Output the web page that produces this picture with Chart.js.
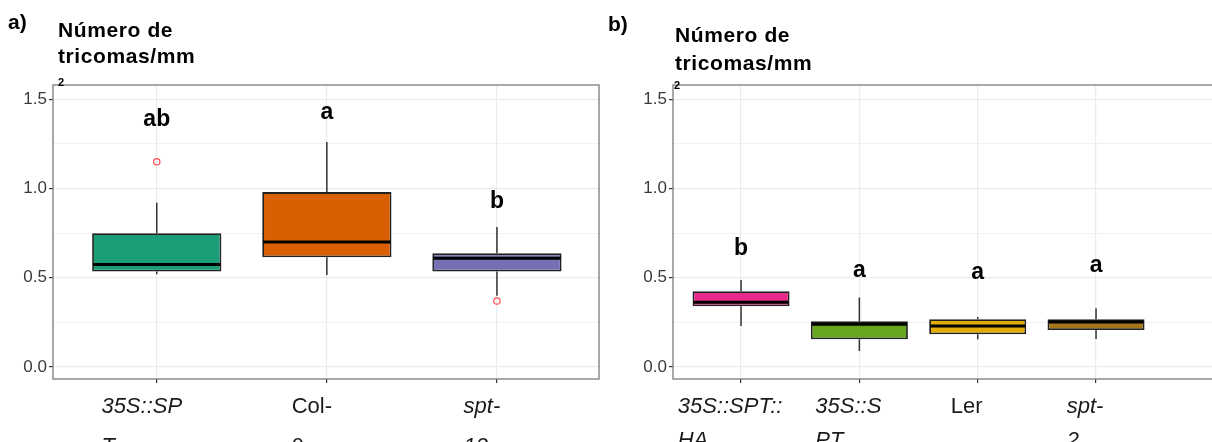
<!DOCTYPE html>
<html lang="pt-br">

<head>
    <meta charset="UTF-8">
    <title>Número de tricomas/mm2</title>
    <script src="https://cdn.jsdelivr.net/npm/chart.js"></script>
    <style>
        html, body { margin: 0; padding: 0; background: #fff; overflow: hidden; }
        body { width: 1212px; height: 442px; position: relative; font-family: "Liberation Sans", Arial, sans-serif; }
        canvas { position: absolute; top: 0; }
        .txt { position: absolute; line-height: 1; color: #000; font-weight: bold; white-space: nowrap; z-index: 2; }
        .painel { font-size: 21px; }
        .titulo { font-size: 21px; letter-spacing: 0.6px; }
        .sup { font-size: 11px; }
    </style>
</head>

<body>
    <div class="txt painel" style="left:8px; top:11px;">a)</div>
    <div class="txt titulo" style="left:58px; top:19px;">Número de</div>
    <div class="txt titulo" style="left:58px; top:45px;">tricomas/mm</div>
    <div class="txt sup" style="left:58px; top:77px;">2</div>

    <div class="txt painel" style="left:608px; top:13px;">b)</div>
    <div class="txt titulo" style="left:675px; top:24px;">Número de</div>
    <div class="txt titulo" style="left:675px; top:52px;">tricomas/mm</div>
    <div class="txt sup" style="left:674px; top:80px;">2</div>

    <canvas id="graficoA" width="605" height="442" style="left:0px;"></canvas>
    <canvas id="graficoB" width="625" height="442" style="left:605px;"></canvas>

    <script>
        // painel a)
        const catsA = ['35S::SPT', 'Col-0', 'spt-12'];
        const linhasA = [['35S::SP', 'T'], ['Col-', '0'], ['spt-', '12']];
        const italicoA = [true, false, true];
        const minA = [0.52, 0.515, 0.40];
        const q1A = [0.535, 0.615, 0.535];
        const medA = [0.575, 0.70, 0.61];
        const q3A = [0.75, 0.98, 0.637];
        const maxA = [0.92, 1.26, 0.784];
        const outliersA = [[1.15], [], [0.37]];
        const letrasA = ['ab', 'a', 'b'];
        const letraYA = [1.352, 1.39, 0.89];
        const coresA = ['#1B9E77', '#D95F02', '#7570B3'];

        // painel b)
        const catsB = ['35S::SPT::HA', '35S::SPT', 'Ler', 'spt-2'];
        const linhasB = [['35S::SPT::', 'HA'], ['35S::S', 'PT'], ['Ler'], ['spt-', '2']];
        const italicoB = [true, true, false, true];
        const minB = [0.23, 0.09, 0.156, 0.157];
        const q1B = [0.34, 0.156, 0.184, 0.207];
        const medB = [0.363, 0.24, 0.23, 0.252];
        const q3B = [0.425, 0.257, 0.268, 0.268];
        const maxB = [0.487, 0.39, 0.28, 0.33];
        const outliersB = [[], [], [], []];
        const letrasB = ['b', 'a', 'a', 'a'];
        const letraYB = [0.627, 0.503, 0.492, 0.532];
        const coresB = ['#E7298A', '#66A61E', '#E6AB02', '#A6761D'];

        // eixo y comum
        const yTicks = [0, 0.25, 0.5, 0.75, 1.0, 1.25, 1.5];
        const yMin = -0.067;
        const yMax = 1.58;

        const FONTE = '"Liberation Sans", Arial, sans-serif';

        // desenha bigodes, medianas, letras, borda e rótulos do eixo x
        const boxExtras = {
            id: 'boxExtras',
            beforeDatasetsDraw(chart, args, op) {
                const ctx = chart.ctx;
                const xs = chart.scales.x, ys = chart.scales.y;
                ctx.save();
                ctx.strokeStyle = '#333';
                ctx.lineWidth = 1.5;
                op.min.forEach((v, i) => {
                    const px = xs.getPixelForValue(i + 1);
                    ctx.beginPath();
                    ctx.moveTo(px, ys.getPixelForValue(op.max[i]));
                    ctx.lineTo(px, ys.getPixelForValue(op.q3[i]));
                    ctx.moveTo(px, ys.getPixelForValue(op.q1[i]));
                    ctx.lineTo(px, ys.getPixelForValue(v));
                    ctx.stroke();
                });
                ctx.restore();
            },
            afterDatasetsDraw(chart, args, op) {
                const ctx = chart.ctx;
                const xs = chart.scales.x, ys = chart.scales.y;
                const barras = chart.getDatasetMeta(0).data;
                ctx.save();
                // medianas
                ctx.strokeStyle = '#000';
                ctx.lineWidth = 3;
                op.med.forEach((v, i) => {
                    const b = barras[i];
                    const py = ys.getPixelForValue(v);
                    ctx.beginPath();
                    ctx.moveTo(b.x - b.width / 2 + 1, py);
                    ctx.lineTo(b.x + b.width / 2 - 1, py);
                    ctx.stroke();
                });
                // letras de significância
                ctx.fillStyle = '#000';
                ctx.font = 'bold 23px ' + FONTE;
                ctx.textAlign = 'center';
                ctx.textBaseline = 'alphabetic';
                op.letras.forEach((t, i) => {
                    ctx.fillText(t, xs.getPixelForValue(i + 1), ys.getPixelForValue(op.letraY[i]));
                });
                // borda do painel
                const a = chart.chartArea;
                ctx.strokeStyle = '#7a7a7a';
                ctx.lineWidth = 1.3;
                ctx.strokeRect(a.left, a.top, a.right - a.left, a.bottom - a.top);
                ctx.restore();
            },
            afterDraw(chart, args, op) {
                const ctx = chart.ctx;
                const xs = chart.scales.x;
                ctx.save();
                ctx.fillStyle = '#1a1a1a';
                ctx.textAlign = 'left';
                ctx.textBaseline = 'alphabetic';
                op.linhas.forEach((ls, i) => {
                    ctx.font = (op.italico[i] ? 'italic ' : '') + '22px ' + FONTE;
                    const px = xs.getPixelForValue(i + 1);
                    const esq = px - ctx.measureText(ls[0]).width / 2 - op.recuo;
                    ls.forEach((l, k) => ctx.fillText(l, esq, 413 + k * op.passo));
                });
                ctx.restore();
            }
        };

        function criarGrafico(id, cats, linhas, italico, mn, q1, med, q3, mx, outs, letras, letraY, cores, cfg) {
            const caixas = q1.map((v, i) => ({ x: i + 1, y: [v, q3[i]] }));
            const pontos = [];
            outs.forEach((lista, i) => lista.forEach(v => pontos.push({ x: i + 1, y: v })));

            return new Chart(document.getElementById(id), {
                type: 'bar',
                data: {
                    datasets: [{
                        data: caixas,
                        backgroundColor: cores,
                        borderColor: '#222',
                        borderWidth: 1.8,
                        borderSkipped: false,
                        barPercentage: cfg.largura,
                        categoryPercentage: 1
                    }, {
                        type: 'scatter',
                        data: pontos,
                        pointStyle: 'circle',
                        pointRadius: 3.2,
                        pointBorderWidth: 1.2,
                        pointBorderColor: '#FF4B4B',
                        pointBackgroundColor: 'rgba(0,0,0,0)'
                    }]
                },
                options: {
                    responsive: false,
                    animation: false,
                    layout: { padding: { top: 85, right: cfg.dir, left: 0, bottom: 0 } },
                    plugins: {
                        legend: { display: false },
                        tooltip: { enabled: false },
                        boxExtras: {
                            min: mn, max: mx, q1: q1, q3: q3, med: med,
                            letras: letras, letraY: letraY,
                            linhas: linhas, italico: italico, passo: cfg.passo, recuo: cfg.recuo
                        }
                    },
                    scales: {
                        x: {
                            type: 'linear',
                            offset: false,
                            min: cfg.xMin,
                            max: cfg.xMax,
                            afterBuildTicks: s => { s.ticks = cats.map((c, i) => ({ value: i + 1 })); },
                            afterFit: s => { s.height = 63; },
                            ticks: { display: false },
                            border: { display: false },
                            grid: {
                                offset: false,
                                color: '#EBEBEB',
                                lineWidth: 1.2,
                                drawTicks: true,
                                tickLength: 4,
                                tickColor: '#333',
                                tickWidth: 1.2
                            }
                        },
                        y: {
                            min: yMin,
                            max: yMax,
                            afterBuildTicks: s => { s.ticks = yTicks.map(v => ({ value: v })); },
                            afterFit: s => { s.width = cfg.yLarg; },
                            border: { display: false },
                            ticks: {
                                autoSkip: false,
                                padding: 2,
                                color: '#3a3a3a',
                                font: { family: FONTE, size: 17 },
                                callback: v => (Math.round(v * 4) % 2 === 0 ? v.toFixed(1) : '')
                            },
                            grid: {
                                color: '#EBEBEB',
                                lineWidth: c => (Math.round(c.tick.value * 4) % 2 === 0 ? 1.2 : 0.7),
                                drawTicks: true,
                                tickLength: 4,
                                tickColor: c => (Math.round(c.tick.value * 4) % 2 === 0 ? '#333' : 'rgba(0,0,0,0)'),
                                tickWidth: 1.2
                            }
                        }
                    }
                },
                plugins: [boxExtras]
            });
        }

        criarGrafico('graficoA', catsA, linhasA, italicoA, minA, q1A, medA, q3A, maxA, outliersA, letrasA, letraYA, coresA,
            { largura: 0.76, xMin: 0.39, xMax: 3.6, yLarg: 53, dir: 6, passo: 40, recuo: 15 });
        criarGrafico('graficoB', catsB, linhasB, italicoB, minB, q1B, medB, q3B, maxB, outliersB, letrasB, letraYB, coresB,
            { largura: 0.82, xMin: 0.425, xMax: 5.056, yLarg: 68, dir: 9, passo: 34, recuo: 11 });
    </script>
</body>

</html>
